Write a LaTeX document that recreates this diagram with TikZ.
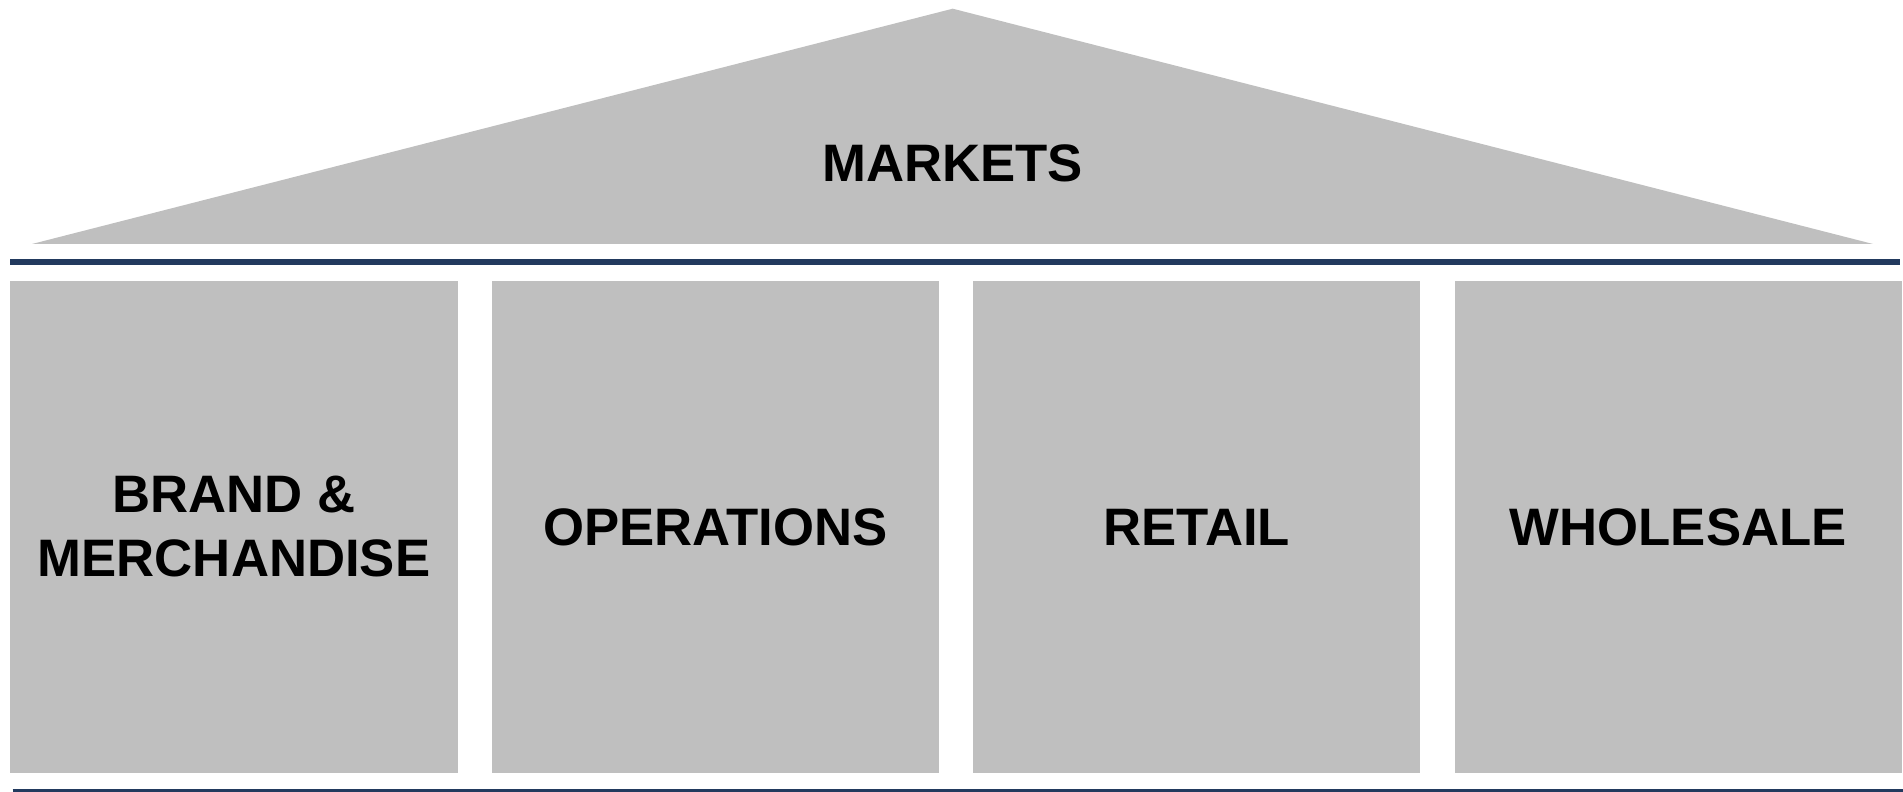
\documentclass[tikz,border=0pt]{standalone}
\usepackage{fontspec}
\setmainfont{Liberation Sans}
\usepackage{tikz}
\usetikzlibrary{positioning}
\usepackage{xcolor}
\definecolor{pillargray}{HTML}{BFBFBF}
\definecolor{beamnavy}{HTML}{223A5E}

\begin{document}
\begin{tikzpicture}[
      every node/.style={font=\fontsize{15}{18.2}\selectfont\bfseries},
      pillar/.style={fill=pillargray, minimum width=4.47cm,
                     minimum height=4.926cm, inner sep=0pt, align=center},
      beam/.style={draw=beamnavy, line width=0.06cm},
    ]
    \useasboundingbox (0, 0) rectangle (19.03, 7.91);

    % roof
    \fill[pillargray] (0.32, 5.47) -- (9.527, 7.823) -- (18.73, 5.47) -- cycle;
    \node (mkt) at (9.525, 6.28) {MARKETS};

    % beams above and below the pillars
    \draw[beam] (0.10, 5.287) -- (19.00, 5.287);
    \draw[beam] (0.127, -0.007) -- (19.05, -0.007);

    % pillars
    \node[pillar] (brand)  at (2.34, 2.64)   {BRAND \&\\MERCHANDISE};
    \node[pillar] (ops)    at (7.154, 2.64)  {OPERATIONS};
    \node[pillar] (retail) at (11.968, 2.64) {RETAIL};
    \node[pillar] (whole)  at (16.782, 2.64) {WHOLESALE};
  \end{tikzpicture}
\end{document}
